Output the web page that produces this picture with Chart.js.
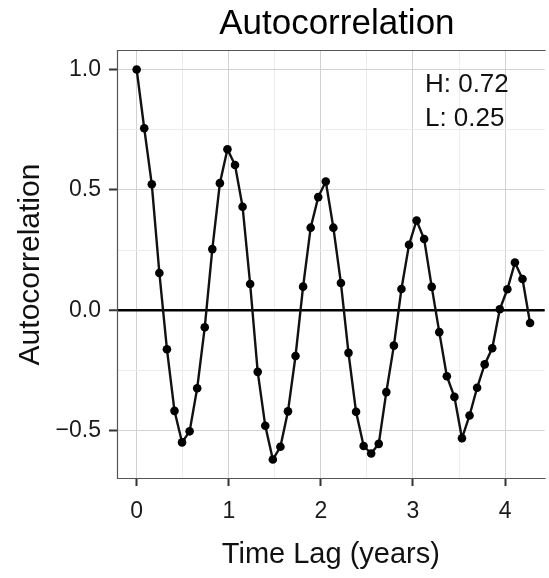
<!DOCTYPE html>
<html>
<head>
<meta charset="utf-8">
<title>Autocorrelation</title>
<script src="https://cdn.jsdelivr.net/npm/chart.js@4/dist/chart.umd.min.js"></script>
<style>
  html, body { margin: 0; padding: 0; background: #fff; overflow: hidden; }
  #wrap { width: 549px; height: 578px; }
</style>
</head>
<body>
<div id="wrap"><canvas id="acf-chart" width="549" height="578"></canvas></div>
<script>
// Autocorrelation plot (ggplot look)
(function () {
  "use strict";

  // lag between two points, in days
  const lagStepDays = 30;

  // autocorrelation, one per lag
  const acfValues = [
    1.0, 0.756, 0.523, 0.155, -0.162, -0.418, -0.549, -0.503, -0.324, -0.071,
    0.254, 0.528, 0.669, 0.603, 0.43, 0.109, -0.256, -0.48, -0.62, -0.567,
    -0.42, -0.19, 0.098, 0.343, 0.47, 0.535, 0.343, 0.113, -0.177, -0.422,
    -0.564, -0.595, -0.555, -0.34, -0.147, 0.088, 0.272, 0.373, 0.296, 0.097,
    -0.091, -0.274, -0.36, -0.532, -0.437, -0.322, -0.225, -0.158, 0.004, 0.087,
    0.198, 0.13, -0.053,
  ];

  const xMajorTicks = [0, 1, 2, 3, 4];
  const xTickLabels = ["0", "1", "2", "3", "4"];
  const xMinorTicks = [0.5, 1.5, 2.5, 3.5];

  const yMajorTicks = [-0.5, 0, 0.5, 1.0];
  const yTickLabels = ["\u22120.5", "0.0", "0.5", "1.0"];
  const yMinorTicks = [-0.25, 0.25, 0.75];

  const titleText = "Autocorrelation";
  const xTitle = "Time Lag (years)";
  const yTitle = "Autocorrelation";
  const annotationLines = ["H: 0.72", "L: 0.25"];

  const FONT = "Helvetica, Arial, 'Liberation Sans', sans-serif";

  const points = acfValues.map((v, i) => ({
    x: (i * lagStepDays) / 365.25,
    y: v,
  }));

  function isMajor(list, value) {
    return list.some((m) => Math.abs(m - value) < 1e-9);
  }

  function setTicks(majors, minors) {
    return function (scale) {
      scale.ticks = majors
        .concat(minors)
        .sort((a, b) => a - b)
        .map((value) => ({ value }));
    };
  }

  function gridColor(majors) {
    return (ctx) => {
      const v = ctx.tick ? ctx.tick.value : null;
      if (v === null) return "transparent";
      if (majors === yMajorTicks && Math.abs(v) < 1e-9) return "#000";
      return isMajor(majors, v) ? "#d2d2d2" : "#ececec";
    };
  }

  const decorPlugin = {
    id: "decor",
    afterDatasetsDraw(chart) {
      const { ctx, chartArea, scales } = chart;
      ctx.save();
      // panel border
      ctx.strokeStyle = "#555";
      ctx.lineWidth = 1.2;
      ctx.beginPath();
      ctx.moveTo(chartArea.right + 1, chartArea.top + 0.5);
      ctx.lineTo(chartArea.left + 0.5, chartArea.top + 0.5);
      ctx.lineTo(chartArea.left + 0.5, chartArea.bottom - 0.5);
      ctx.lineTo(chartArea.right + 1, chartArea.bottom - 0.5);
      ctx.stroke();

      // annotation
      ctx.fillStyle = "#111";
      ctx.font = `26px ${FONT}`;
      ctx.textAlign = "left";
      ctx.textBaseline = "alphabetic";
      const ax = scales.x.getPixelForValue(3.13);
      ctx.fillText(annotationLines[0], ax, scales.y.getPixelForValue(0.905));
      ctx.fillText(annotationLines[1], ax, scales.y.getPixelForValue(0.765));
      ctx.restore();
    },
    afterDraw(chart) {
      const { ctx, chartArea } = chart;
      ctx.save();
      ctx.fillStyle = "#000";
      ctx.font = `35px ${FONT}`;
      ctx.textAlign = "center";
      ctx.textBaseline = "alphabetic";
      ctx.fillText(titleText, (chartArea.left + chartArea.right) / 2 + 6, 34);
      ctx.restore();
    },
  };

  const canvas = document.getElementById("acf-chart");
  new Chart(canvas.getContext("2d"), {
    type: "line",
    data: {
      datasets: [
        {
          data: points,
          borderColor: "#111",
          borderWidth: 2.4,
          pointRadius: 4.3,
          pointBackgroundColor: "#000",
          pointBorderWidth: 0,
          pointHoverRadius: 4.3,
          tension: 0,
          fill: false,
        },
      ],
    },
    options: {
      responsive: false,
      animation: false,
      devicePixelRatio: 1,
      layout: { padding: { top: 50, right: 0, left: 0, bottom: 0 } },
      plugins: {
        legend: { display: false },
        title: { display: false },
        tooltip: { enabled: false },
      },
      scales: {
        x: {
          type: "linear",
          min: -0.2135,
          max: 4.43,
          afterBuildTicks: setTicks(xMajorTicks, xMinorTicks),
          afterFit: (scale) => {
            scale.height = 99;
          },
          border: { display: false },
          grid: {
            color: gridColor(xMajorTicks),
            lineWidth: 1,
            tickLength: 7,
            tickWidth: 2,
            tickColor: (ctx) =>
              ctx.tick && isMajor(xMajorTicks, ctx.tick.value)
                ? "#333"
                : "transparent",
          },
          ticks: {
            autoSkip: false,
            maxRotation: 0,
            padding: 12,
            color: "#1a1a1a",
            font: { family: FONT, size: 23 },
            callback: (value) => {
              const i = xMajorTicks.findIndex((m) => Math.abs(m - value) < 1e-9);
              return i >= 0 ? xTickLabels[i] : "";
            },
          },
          title: {
            display: true,
            text: xTitle,
            color: "#111",
            font: { family: FONT, size: 29 },
            padding: { top: 0, bottom: 6 },
          },
        },
        y: {
          type: "linear",
          min: -0.701,
          max: 1.081,
          afterBuildTicks: setTicks(yMajorTicks, yMinorTicks),
          afterFit: (scale) => {
            scale.width = 117;
          },
          border: { display: false },
          grid: {
            color: gridColor(yMajorTicks),
            lineWidth: (ctx) =>
              ctx.tick && Math.abs(ctx.tick.value) < 1e-9 ? 2.5 : 1,
            tickLength: 8,
            tickWidth: 2,
            tickColor: (ctx) =>
              ctx.tick && isMajor(yMajorTicks, ctx.tick.value)
                ? "#333"
                : "transparent",
          },
          ticks: {
            autoSkip: false,
            padding: 8,
            color: "#1a1a1a",
            font: { family: FONT, size: 23 },
            callback: (value) => {
              const i = yMajorTicks.findIndex((m) => Math.abs(m - value) < 1e-9);
              return i >= 0 ? yTickLabels[i] : "";
            },
          },
          title: {
            display: true,
            text: yTitle,
            color: "#111",
            font: { family: FONT, size: 30 },
            padding: { top: 13, bottom: 0 },
          },
        },
      },
    },
    plugins: [decorPlugin],
  });
})();
</script>
</body>
</html>
